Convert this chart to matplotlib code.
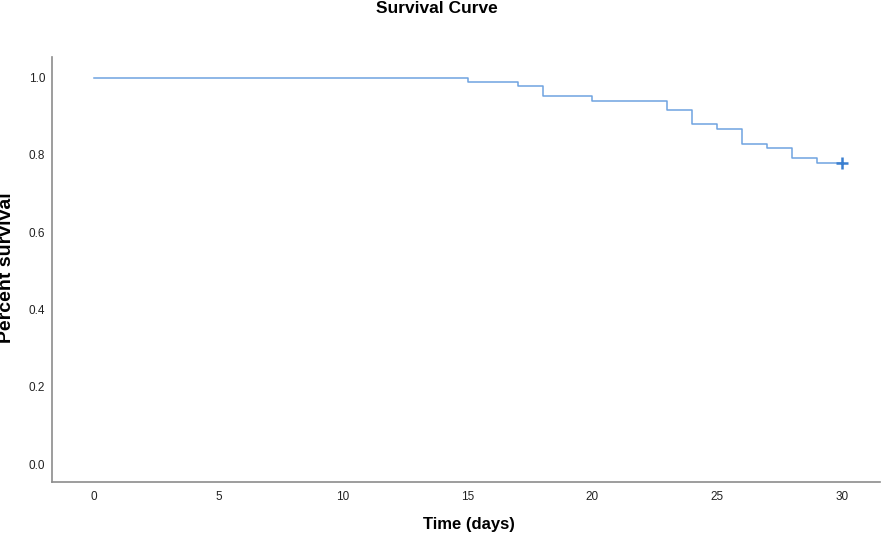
import matplotlib
matplotlib.use("Agg")
import matplotlib.pyplot as plt

# Kaplan-Meier step data (time in days, survival proportion)
times = [0, 15, 17, 18, 20, 23, 24, 25, 26, 27, 28, 29, 30]
survival = [1.0, 0.989, 0.977, 0.952, 0.940, 0.915, 0.880, 0.867, 0.829, 0.817, 0.793, 0.780, 0.780]
censor_times = [30]
censor_survival = [0.780]
xticks = [0, 5, 10, 15, 20, 25, 30]
yticks = [0.0, 0.2, 0.4, 0.6, 0.8, 1.0]

plt.rcParams['font.family'] = ['Liberation Sans', 'DejaVu Sans']

fig = plt.figure(figsize=(8.86, 5.37), dpi=100)
ax = fig.add_axes([0.059, 0.1018, 0.934, 0.7926])

ax.step(times, survival, where='post', color='#6fa3e0', linewidth=1.1)
ax.plot(censor_times, censor_survival, linestyle='none', marker='+', color='#3a7fd0',
        markersize=8, markeredgewidth=1.8)

ax.set_xlim(-1.67, 31.53)
ax.set_ylim(-0.047, 1.054)
ax.set_xticks(xticks)
ax.set_xticklabels([str(t) for t in xticks])
ax.set_yticks(yticks)
ax.set_yticklabels([f"{t:.1f}" for t in yticks])
ax.tick_params(axis='both', length=0, labelsize=8.5, colors='#222222')
ax.tick_params(axis='x', pad=6)
ax.tick_params(axis='y', pad=5)

for s in ['top', 'right']:
    ax.spines[s].set_visible(False)
for s in ['left', 'bottom']:
    ax.spines[s].set_color('#8c8c8c')
    ax.spines[s].set_linewidth(1.2)

ax.set_xlabel('Time (days)', fontsize=12, fontweight='bold', va='center')
ax.xaxis.set_label_coords(0.503, -0.100)
ax.set_ylabel('Percent survival', fontsize=14, fontweight='bold', va='center')
ax.yaxis.set_label_coords(-0.055, 0.505)
fig.text(437 / 886, 0.999, 'Survival Curve', ha='center', va='top', fontsize=12.5, fontweight='bold')

fig.savefig('out.png', dpi=100)
